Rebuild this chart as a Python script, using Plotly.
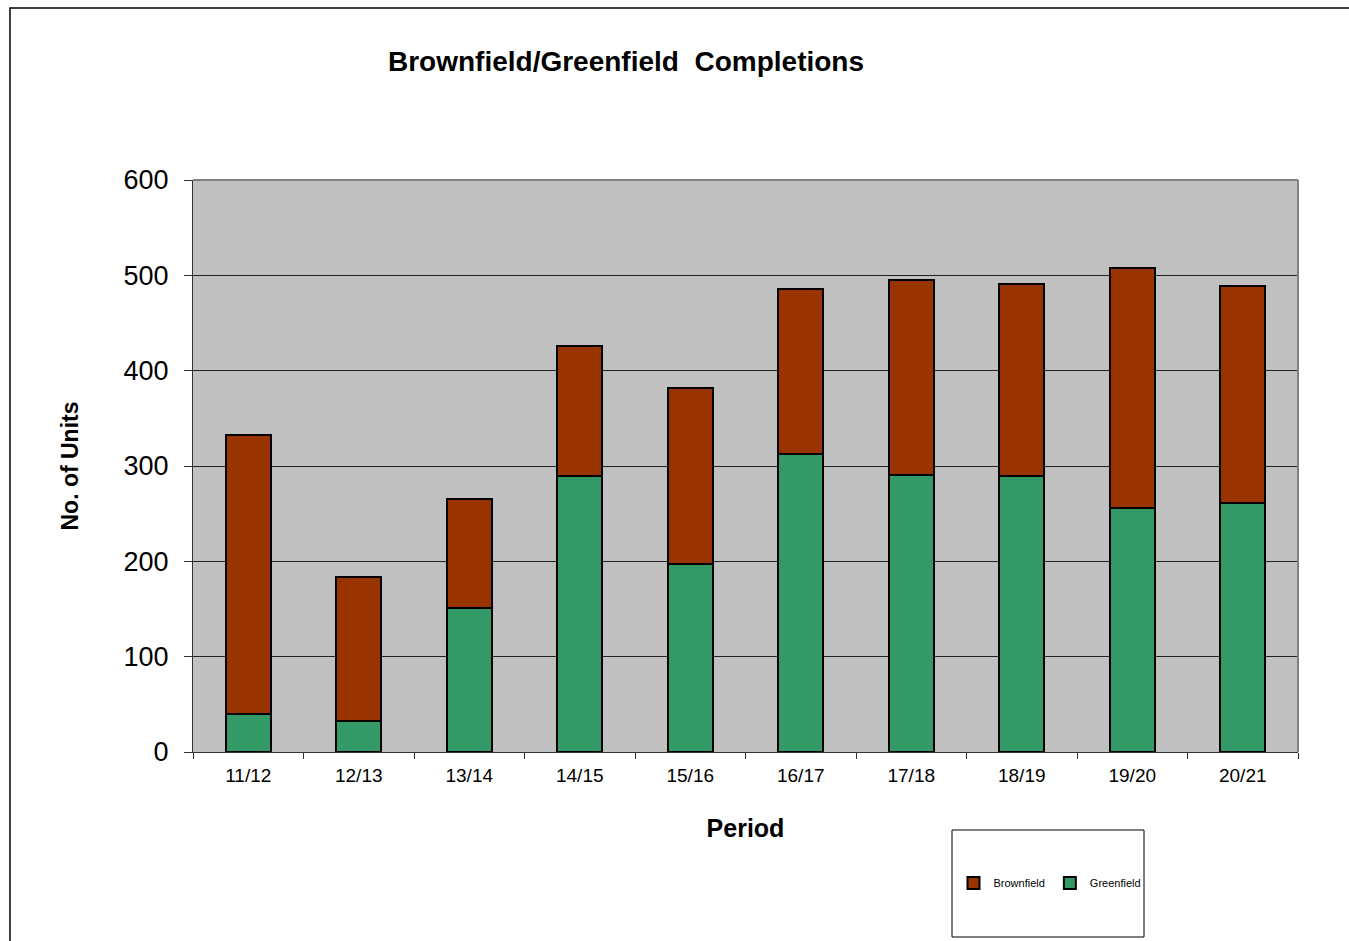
import plotly.graph_objects as go

periods = ["11/12", "12/13", "13/14", "14/15", "15/16", "16/17", "17/18", "18/19", "19/20", "20/21"]
greenfield = [40, 33, 151, 289, 197, 313, 291, 289, 256, 261]
brownfield = [293, 151, 114, 137, 185, 173, 204, 202, 252, 228]

L, R, T, B = 193, 1298, 180, 752
W, H = R - L, B - T
def px(x): return (x - L) / W
def py(y): return (B - y) / H

fig = go.Figure()
fig.add_trace(go.Bar(x=periods, y=greenfield, name="Greenfield",
                     marker=dict(color="#339966", line=dict(color="black", width=2)), width=0.41))
fig.add_trace(go.Bar(x=periods, y=brownfield, name="Brownfield",
                     marker=dict(color="#993300", line=dict(color="black", width=2)), width=0.41))

fig.update_layout(
    width=1349, height=941,
    barmode="stack",
    paper_bgcolor="white", plot_bgcolor="#C0C0C0",
    margin=dict(l=L, r=1349 - R, t=T, b=941 - B, autoexpand=False),
    font=dict(family="Arial, Liberation Sans, sans-serif", color="black"),
    showlegend=True,
    legend=dict(orientation="h", x=px(1050), y=py(883), xanchor="center", yanchor="middle",
                traceorder="reversed", font=dict(size=11), bgcolor="rgba(0,0,0,0)",
                itemwidth=30),
    xaxis=dict(showgrid=False, tickson="boundaries", ticks="outside", ticklen=6,
               tickcolor="#333", showline=True, linecolor="#333", linewidth=1,
               tickfont=dict(size=19), mirror=False, ticklabelstandoff=6,
               title=dict(text="<b>Period</b>", font=dict(size=25), standoff=34)),
    yaxis=dict(range=[0, 600], dtick=100, showgrid=True, gridcolor="#222", gridwidth=1,
               ticks="outside", ticklen=8, tickcolor="#333", showline=True, linecolor="#333",
               linewidth=1, tickfont=dict(size=27), zeroline=False, ticklabelstandoff=10,
               title=dict(text="<b>No. of Units</b>", font=dict(size=23), standoff=38)),
    title=dict(text="<b>Brownfield/Greenfield  Completions</b>", x=626 / 1349, xanchor="center",
               y=1 - 61 / 941, yanchor="middle", font=dict(size=28)),
)

shapes = [
    dict(type="line", xref="paper", yref="paper", x0=0, x1=1, y0=1, y1=1, line=dict(color="#808080", width=2)),
    dict(type="line", xref="paper", yref="paper", x0=1, x1=1, y0=0, y1=1, line=dict(color="#808080", width=2)),
    dict(type="rect", xref="paper", yref="paper", x0=px(10), x1=px(1360), y0=py(960), y1=py(8),
         line=dict(color="black", width=1.5), fillcolor="rgba(0,0,0,0)", layer="below"),
    dict(type="rect", xref="paper", yref="paper", x0=px(952), x1=px(1144), y0=py(937), y1=py(830),
         line=dict(color="black", width=1), fillcolor="rgba(0,0,0,0)"),
]
fig.update_layout(shapes=shapes)

fig.write_html("out.html", config={"displayModeBar": False},
               post_script="document.body.style.margin='0px';document.body.style.overflow='hidden';")
